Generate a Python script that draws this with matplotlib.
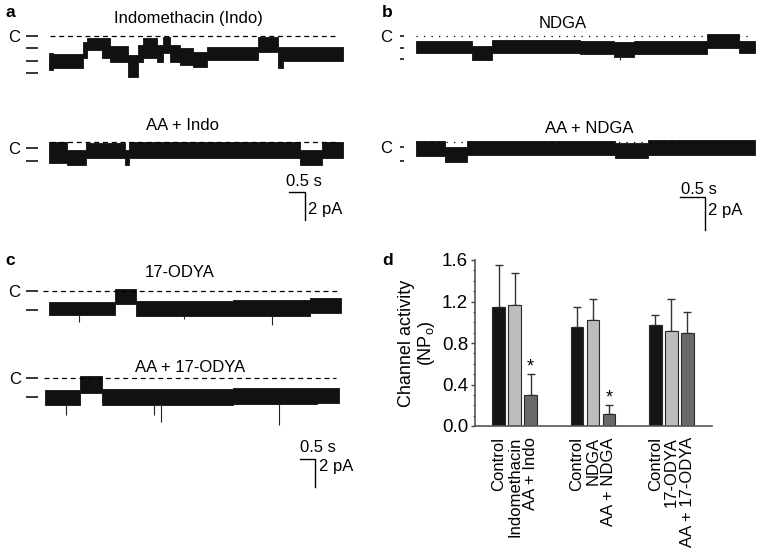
import numpy as np
import matplotlib
matplotlib.use("Agg")
import matplotlib.pyplot as plt
from matplotlib.ticker import MultipleLocator, FormatStrFormatter

plt.rcParams['font.family'] = ['Liberation Sans', 'DejaVu Sans']
plt.rcParams['mathtext.default'] = 'regular'

# ---- single channel traces (step bands: time s, upper / lower envelope pA) ----
indo_t = [0, 0.14, 1.05, 1.20, 1.65, 1.91, 2.48, 2.79, 2.95, 3.36, 3.57, 3.78, 4.09, 4.51, 4.93, 6.54, 7.17, 7.32, 9.20]
indo_hi = [-1.26, -1.33, -0.43, -0.19, -0.19, -0.71, -1.38, -0.67, -0.19, -0.67, -0.07, -0.67, -0.90, -1.14, -0.79, -0.07, -0.79, -0.79]
indo_lo = [-2.45, -2.29, -1.62, -1.02, -1.62, -1.86, -2.93, -1.86, -1.62, -1.86, -1.26, -1.86, -2.10, -2.21, -1.74, -1.14, -2.33, -1.81]

aa_indo_t = [0, 0.55, 1.16, 2.38, 2.50, 7.84, 8.52, 9.20]
aa_indo_hi = [0.43, -0.17, 0.31, -0.20, 0.43, -0.17, 0.43]
aa_indo_lo = [-1.12, -1.24, -0.76, -1.24, -0.76, -1.24, -0.76]

ndga_t = [0, 1.11, 1.51, 3.28, 3.95, 4.35, 5.81, 6.45, 6.78]
ndga_hi = [-0.32, -0.61, -0.26, -0.32, -0.40, -0.30, 0.08, -0.32]
ndga_lo = [-1.07, -1.47, -1.07, -1.13, -1.27, -1.11, -0.77, -1.07]
ndga_spk_t = [4.07]
ndga_spk_lo = [-1.47]

aa_ndga_t = [0, 0.57, 1.02, 3.97, 4.63, 6.77]
aa_ndga_hi = [0.36, 0.02, 0.36, 0.28, 0.42]
aa_ndga_lo = [-0.53, -0.89, -0.48, -0.65, -0.44]

odya_t = [0, 2.19, 2.91, 6.13, 8.69, 9.74]
odya_hi = [-0.79, 0.10, -0.71, -0.67, -0.55]
odya_lo = [-1.74, -0.95, -1.81, -1.81, -1.62]
odya_spk_t = [0.99, 4.49, 7.44]
odya_spk_lo = [-2.21, -2.05, -2.45]

aa_odya_t = [0, 1.17, 1.89, 6.28, 9.06, 9.81]
aa_odya_hi = [-0.83, 0.12, -0.76, -0.71, -0.71]
aa_odya_lo = [-1.90, -1.07, -1.95, -1.86, -1.79]
aa_odya_spk_t = [0.70, 3.63, 3.86, 7.81]
aa_odya_spk_lo = [-2.67, -2.62, -3.17, -3.38]

# ---- panel d ----
bar_labels = ["Control", "Indomethacin", "AA + Indo",
              "Control", "NDGA", "AA + NDGA",
              "Control", "17-ODYA", "AA + 17-ODYA"]
np_mean = [1.15, 1.17, 0.30, 0.95, 1.02, 0.12, 0.97, 0.92, 0.90]
np_err = [0.40, 0.30, 0.20, 0.20, 0.20, 0.08, 0.10, 0.30, 0.20]
signif = [2, 5]

W, H = 766, 557
fig = plt.figure(figsize=(W / 100, H / 100), dpi=100)


def px_axes(x0, y0, x1, y1):
    return fig.add_axes([x0 / W, 1 - y1 / H, (x1 - x0) / W, (y1 - y0) / H])


def ftext(x, y, s, **kw):
    fig.text(x / W, 1 - y / H, s, **kw)


def trace(x0, yc, ppx, ppa, t, hi, lo, ticks, ref=0.0, ref_span=(0, 1), ref_ls=(0, (4, 3)),
          spk_t=(), spk_lo=(), tick_len=8.5, gap=8, pad=4):
    dur = t[-1]
    above, below = 22, 75
    ax = px_axes(x0, yc - above, x0 + dur * ppx, yc + below)
    ax.set_xlim(0, dur)
    ax.set_ylim(-below / ppa, above / ppa)
    ax.fill_between(t, hi + [hi[-1]], lo + [lo[-1]], step='post', color='#111111', lw=0.6,
                    edgecolor='#111111')
    for st, sl in zip(spk_t, spk_lo):
        i = min(np.searchsorted(t, st) - 1, len(lo) - 1)
        ax.vlines(st, lo[i], sl, color='#222222', lw=0.8)
    ax.axhline(ref, ref_span[0], ref_span[1], color='black', lw=0.9, ls=ref_ls, clip_on=False)
    for s in ['top', 'right', 'bottom', 'left']:
        ax.spines[s].set_visible(False)
    ax.spines['left'].set_position(('outward', gap))
    ax.set_xticks([])
    ax.set_yticks(ticks, ['C'] + [''] * (len(ticks) - 1))
    ax.tick_params(axis='y', length=tick_len, width=1.1, pad=pad, labelsize=12)
    ax.patch.set_visible(False)
    return ax


def scalebar(ax, t1, y1, dt, dy, txt_off, lab_off):
    ax.plot([t1 - dt, t1, t1], [y1, y1, y1 - dy], color='black', lw=1.0, clip_on=False)
    ax.annotate("0.5 s", xy=(t1 - dt, y1), xytext=txt_off, textcoords='offset points',
                ha='left', va='baseline', fontsize=12, annotation_clip=False)
    ax.annotate("2 pA", xy=(t1, y1), xytext=lab_off, textcoords='offset points',
                ha='left', va='center', fontsize=12, annotation_clip=False)


# panel a
trace(49, 35.7, 32, 14, indo_t, indo_hi, indo_lo, [0, -0.90, -1.79, -2.69],
      ref_span=(0.003, 0.98))
ax = trace(49, 147.7, 32, 14, aa_indo_t, aa_indo_hi, aa_indo_lo, [0, -0.93],
           ref=0.38, ref_span=(0.003, 0.98))
scalebar(ax, 8.0, -3.16, 0.5, 2.0, (-2, 4), (2, -13))

# panel b
trace(416, 35.7, 50, 16.5, ndga_t, ndga_hi, ndga_lo, [0, -0.73, -1.43],
      ref_ls=(0, (1, 5)), ref_span=(0, 0.995), spk_t=ndga_spk_t, spk_lo=ndga_spk_lo,
      tick_len=2.6, gap=8.6, pad=6)
ax = trace(416, 147.3, 50, 16.5, aa_ndga_t, aa_ndga_hi, aa_ndga_lo, [0, -0.81],
           ref=0.32, ref_ls=(0, (1, 5)), ref_span=(0, 0.995), tick_len=2.6, gap=8.6, pad=6)
scalebar(ax, 5.78, -3.01, 0.5, 2.0, (1, 2), (2, -10))

# panel c
trace(49, 290.7, 30, 14, odya_t, odya_hi, odya_lo, [0, -1.38], ref_span=(-0.02, 0.985),
      spk_t=odya_spk_t, spk_lo=odya_spk_lo)
ax = trace(45, 378, 30, 14, aa_odya_t, aa_odya_hi, aa_odya_lo, [0, -1.38],
           ref_span=(-0.005, 0.99), spk_t=aa_odya_spk_t, spk_lo=aa_odya_spk_lo, gap=5)
scalebar(ax, 9.0, -5.79, 0.5, 2.0, (0, 5), (3, -5))

# titles and panel letters
ftext(188, 22.7, "Indomethacin (Indo)", ha='center', va='baseline', fontsize=12)
ftext(183, 130, "AA + Indo", ha='center', va='baseline', fontsize=12)
ftext(563, 28, "NDGA", ha='center', va='baseline', fontsize=12)
ftext(589, 133, "AA + NDGA", ha='center', va='baseline', fontsize=12)
ftext(180, 277, "17-ODYA", ha='center', va='baseline', fontsize=12)
ftext(190, 372, "AA + 17-ODYA", ha='center', va='baseline', fontsize=12)
for x, y, s in [(5, 17, "a"), (382, 17, "b"), (5, 265, "c"), (382, 265, "d")]:
    ftext(x, y, s, ha='left', va='baseline', fontsize=12.5, fontweight='bold')

# panel d bar chart
ax = px_axes(475, 260, 712, 426)
pos = [g * 4.9 + i for g in range(3) for i in range(3)]
colors = ['#151515', '#bcbcbc', '#696969'] * 3
ax.errorbar(pos, np_mean, yerr=[np.zeros(len(np_err)), np_err], fmt='none',
            ecolor='#333333', elinewidth=1.0, capsize=3, capthick=1.0, zorder=1)
ax.bar(pos, np_mean, width=0.8, color=colors, edgecolor='#2a2a2a', lw=0.8, zorder=2)
for k in signif:
    ax.text(pos[k], np_mean[k] + np_err[k] + 0.07, "*", ha='center', va='center', fontsize=13)
ax.set_xlim(-1.47, 13.34)
ax.set_ylim(0, 1.6)
ax.set_yticks([0, 0.4, 0.8, 1.2, 1.6])
ax.yaxis.set_minor_locator(MultipleLocator(0.1))
ax.yaxis.set_major_formatter(FormatStrFormatter('%.1f'))
ax.set_xticks(pos, bar_labels, rotation=90)
ax.tick_params(axis='x', length=0, pad=8, labelsize=12)
ax.tick_params(axis='y', which='major', length=3, width=1, color='#444444', labelsize=13.5, pad=2)
ax.tick_params(axis='y', which='minor', length=1.5, width=0.8, color='#444444')
for s in ['top', 'right']:
    ax.spines[s].set_visible(False)
for s in ['left', 'bottom']:
    ax.spines[s].set_color('#555555')
    ax.spines[s].set_linewidth(1.2)
ax.set_ylabel("Channel activity\n(NP$_{o}$)", fontsize=13, linespacing=1.1)
ax.yaxis.set_label_coords(-0.16, 0.5)

fig.savefig("out.png", dpi=100)
